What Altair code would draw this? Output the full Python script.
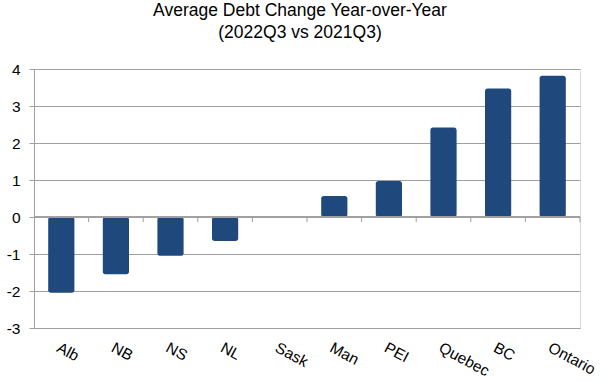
import altair as alt
import pandas as pd

provinces = ["Alb", "NB", "NS", "NL", "Sask", "Man", "PEI", "Quebec", "BC", "Ontario"]
changes = [-2.05, -1.55, -1.05, -0.65, 0.0, 0.57, 0.97, 2.42, 3.47, 3.82]
y_ticks = [-3, -2, -1, 0, 1, 2, 3, 4]
title_lines = ["Average Debt Change Year-over-Year", "(2022Q3 vs 2021Q3)"]
# category boundaries (in category-index units) where the zero-line ticks sit
boundaries = list(range(1, len(provinces) + 1))

df = pd.DataFrame({"prov": provinces, "val": changes})
bdf = pd.DataFrame({"b": boundaries})

FONT = "Liberation Sans"
GRAY = "#a0a0a0"

x_scale = alt.Scale(domain=provinces, paddingInner=0.52, paddingOuter=0.26)
y_scale = alt.Scale(domain=[y_ticks[0], y_ticks[-1]], nice=False, zero=False)

y_axis = alt.Axis(title=None, values=y_ticks, tickCount=len(y_ticks), grid=True, gridColor=GRAY,
                  domainColor=GRAY, tickColor=GRAY, tickSize=5, labelPadding=9,
                  labelFontSize=15.5, labelFont=FONT, labelColor="#000000",
                  labelOverlap=False, labelFlush=False, labelExpr="'' + datum.value")

bars = alt.Chart(df).mark_bar(color="#1f497d", cornerRadius=2.5).encode(
    x=alt.X("prov:N", scale=x_scale, sort=provinces,
            axis=alt.Axis(title=None, labelAngle=28, labelAlign="left", labelBaseline="top",
                          labelPadding=12, domain=False, ticks=False, labelFontSize=15.5,
                          labelFont=FONT, labelColor="#000000", labelOverlap=False)),
    y=alt.Y("val:Q", scale=y_scale, axis=y_axis),
    y2=alt.datum(0),
)

zero_line = alt.Chart(df).mark_rule(color=GRAY, strokeWidth=1).encode(
    y=alt.datum(0, scale=y_scale, axis=y_axis)
)

tick_marks = alt.Chart(bdf).mark_rule(color=GRAY, strokeWidth=1).encode(
    x=alt.X("b:Q", scale=alt.Scale(domain=[0, len(provinces)], nice=False), axis=None),
    y=alt.datum(0, scale=y_scale, axis=y_axis),
    y2=alt.datum(-0.14),
)

chart = alt.layer(bars, zero_line, tick_marks).resolve_scale(x="independent").properties(
    width=546,
    height=259,
    autosize=alt.AutoSizeParams(type="none"),
    padding={"left": 34, "top": 69, "right": 25, "bottom": 55},
    title=alt.TitleParams(title_lines, fontSize=17.5, font=FONT, fontWeight="normal",
                          anchor="middle", offset=21, lineHeight=22, dx=-7, color="#000000"),
).configure_view(stroke=None).configure(background="white")

chart.save("out.html", embed_options={"renderer": "svg", "actions": False})
